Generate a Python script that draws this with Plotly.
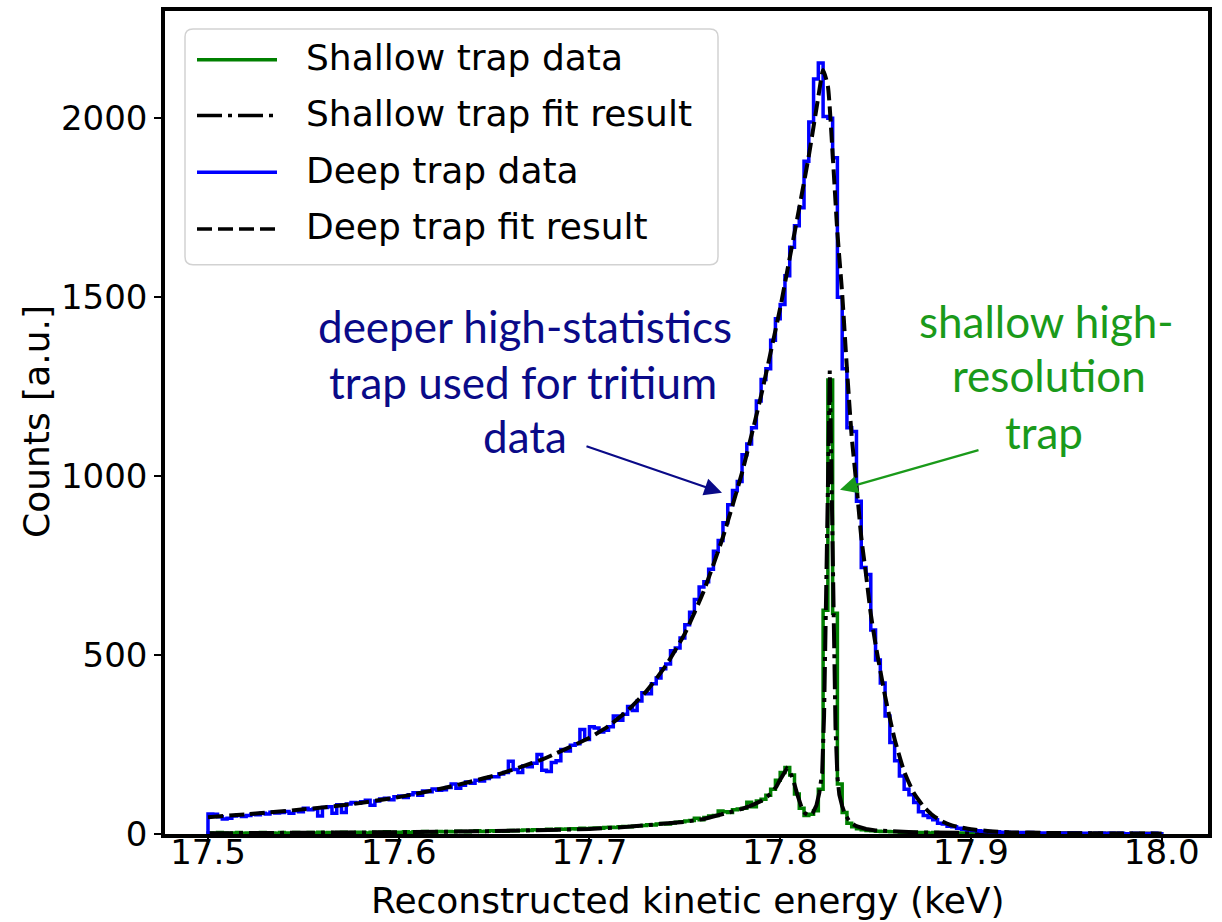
import numpy as np
import plotly.graph_objects as go

# ---------------- data ----------------
bin_start = 17.5
bin_width = 0.0025
n_bins = 200

deep_counts = [
    56, 55, 48, 42, 44, 50, 53, 49, 52, 55,
    54, 58, 56, 61, 59, 60, 63, 58, 65, 62,
    72, 68, 70, 50, 74, 76, 58, 82, 60, 84,
    88, 86, 90, 94, 80, 92, 98, 100, 96, 104,
    106, 102, 110, 115, 108, 120, 118, 126, 122, 124,
    130, 140, 128, 136, 145, 142, 150, 148, 155, 160,
    160, 168, 172, 203, 180, 172, 190, 188, 198, 222,
    178, 175, 200, 205, 236, 232, 248, 252, 292, 264,
    300, 296, 285, 290, 300, 330, 318, 335, 356, 345,
    372, 395, 392, 420, 436, 462, 475, 512, 520, 548,
    585, 620, 655, 690, 705, 740, 790, 820, 870, 920,
    960, 985, 1060, 1090, 1135, 1210, 1270, 1300, 1380, 1440,
    1480, 1560, 1640, 1700, 1750, 1880, 1990, 2110, 2155, 2005,
    2000, 1890, 1500, 1300, 1135, 1125, 930, 745, 725, 570,
    486, 422, 330, 256, 205, 162, 125, 110, 88, 62,
    52, 46, 40, 30, 28, 22, 20, 16, 13, 12,
    10, 9, 8, 7, 6, 6, 5, 5, 4, 4,
    4, 3, 4, 3, 3, 3, 2, 3, 2, 2,
    2, 3, 2, 2, 2, 1, 2, 2, 1, 2,
    1, 2, 1, 1, 2, 1, 1, 1, 2, 1,
]

shallow_counts = [
    3, 2, 4, 3, 2, 3, 4, 2, 3, 3,
    2, 4, 3, 3, 2, 4, 3, 3, 4, 2,
    3, 4, 3, 5, 3, 4, 3, 4, 5, 3,
    4, 5, 4, 3, 5, 4, 5, 6, 4, 5,
    5, 6, 4, 6, 5, 7, 6, 5, 7, 6,
    7, 6, 8, 7, 6, 8, 9, 7, 8, 9,
    8, 9, 8, 10, 9, 10, 11, 10, 12, 11,
    12, 13, 12, 14, 13, 14, 15, 14, 16, 15,
    16, 17, 16, 18, 19, 18, 20, 21, 20, 22,
    23, 24, 26, 25, 28, 29, 28, 31, 33, 34,
    36, 38, 44, 40, 46, 50, 52, 64, 62, 60,
    68, 70, 72, 89, 76, 92, 97, 108, 125, 150,
    172, 186, 165, 112, 72, 52, 55, 65, 125, 625,
    1269, 617, 140, 60, 30, 20, 15, 12, 10, 9,
    8, 7, 7, 6, 6, 5, 5, 5, 4, 4,
    4, 3, 4, 3, 3, 3, 2, 3, 3, 2,
    2, 3, 2, 2, 2, 2, 1, 2, 2, 1,
    2, 1, 1, 2, 1, 1, 1, 2, 1, 1,
    1, 1, 1, 1, 1, 0, 1, 1, 1, 0,
    1, 0, 1, 1, 0, 1, 0, 1, 0, 1,
]

deep_fit_x = [17.50, 17.525, 17.55, 17.575, 17.60, 17.625, 17.65, 17.675, 17.70, 17.71,
              17.72, 17.73, 17.74, 17.75, 17.76, 17.77, 17.78, 17.79, 17.80, 17.805,
              17.81, 17.815, 17.82, 17.8225, 17.825, 17.8275, 17.83, 17.8325, 17.835, 17.8375,
              17.84, 17.8425, 17.845, 17.8475, 17.85, 17.855, 17.86, 17.865, 17.87, 17.875,
              17.88, 17.885, 17.89, 17.90, 17.91, 17.92, 17.94, 17.96, 17.98, 18.00]
deep_fit_y = [47, 57, 69, 83, 103, 130, 163, 208, 269, 302,
              345, 400, 470, 560, 680, 830, 1010, 1225, 1470, 1610,
              1750, 1895, 2060, 2135, 2090, 1900, 1680, 1510, 1300, 1110,
              975, 830, 725, 615, 530, 385, 265, 175, 115, 78,
              52, 35, 24, 13, 8, 5, 3, 2, 1.5, 1]

shallow_fit_x = [17.50, 17.55, 17.60, 17.65, 17.70, 17.72, 17.74, 17.75, 17.76, 17.77,
                 17.78, 17.785, 17.79, 17.795, 17.798, 17.80, 17.802, 17.8035, 17.805, 17.807,
                 17.809, 17.811, 17.813, 17.815, 17.817, 17.819, 17.8205, 17.822, 17.823, 17.824,
                 17.825, 17.826, 17.827, 17.828, 17.829, 17.830, 17.831, 17.8325, 17.834, 17.836,
                 17.838, 17.84, 17.845, 17.85, 17.86, 17.87, 17.88, 17.90, 17.95, 18.00]
shallow_fit_y = [2, 3, 5, 8, 14, 20, 28, 34, 42, 55,
                 70, 80, 92, 112, 132, 152, 172, 183, 176, 148,
                 110, 78, 58, 52, 58, 80, 115, 170, 330, 600,
                 960, 1295, 900, 560, 300, 160, 110, 78, 55, 38,
                 28, 22, 14, 10, 7, 5, 4, 3, 2, 1]

x_ticks = [17.5, 17.6, 17.7, 17.8, 17.9, 18.0]
x_tick_labels = ["17.5", "17.6", "17.7", "17.8", "17.9", "18.0"]
y_ticks = [0, 500, 1000, 1500, 2000]
y_tick_labels = ["0", "500", "1000", "1500", "2000"]

legend_labels = ["Shallow trap data", "Shallow trap fit result",
                 "Deep trap data", "Deep trap fit result"]

# ---------------- layout constants ----------------
W, H = 1222, 922
L, R, T, B = 165, 14, 7, 88
PW, PH = W - L - R, H - T - B

GREEN = "#008000"
BLUE = "#0000ff"
NAVY = "#0a0a88"
ANN_GREEN = "#1a9a1a"
FIT_DASH = "15px,6px"
FIT_DASHDOT = "25px,6px,4px,6px"


def px_x(px):
    return (px - L) / PW


def px_y(py):
    return (H - B - py) / PH


edges = bin_start + bin_width * np.arange(n_bins + 1)


def step_xy(counts):
    xs = [edges[0]] + list(edges[:n_bins]) + [edges[n_bins], edges[n_bins]]
    ys = [0] + list(counts) + [counts[-1], 0]
    return xs, ys


fig = go.Figure()

sx, sy = step_xy(shallow_counts)
fig.add_trace(go.Scatter(x=sx, y=sy, mode="lines", line=dict(color=GREEN, width=3.5, shape="hv"),
                         name=legend_labels[0], showlegend=False))
fig.add_trace(go.Scatter(x=shallow_fit_x, y=shallow_fit_y, mode="lines",
                         line=dict(color="black", width=4, dash=FIT_DASHDOT),
                         name=legend_labels[1], showlegend=False))
dx, dy = step_xy(deep_counts)
fig.add_trace(go.Scatter(x=dx, y=dy, mode="lines", line=dict(color=BLUE, width=3.5, shape="hv"),
                         name=legend_labels[2], showlegend=False))
fig.add_trace(go.Scatter(x=deep_fit_x, y=deep_fit_y, mode="lines",
                         line=dict(color="black", width=4, dash=FIT_DASH, shape="spline", smoothing=0.5),
                         name=legend_labels[3], showlegend=False))

TICKFONT = dict(family="DejaVu Sans", size=34, color="black")

fig.update_xaxes(range=[17.47746, 18.0243], tickvals=x_ticks, ticktext=x_tick_labels,
                 showline=True, linecolor="black", linewidth=3.5, mirror=True,
                 ticks="outside", ticklen=7, tickwidth=1.5, tickcolor="black",
                 ticklabelstandoff=-22,
                 showgrid=False, zeroline=False, tickfont=TICKFONT)
fig.update_yaxes(range=[0, 2300], tickvals=y_ticks, ticktext=y_tick_labels,
                 showline=True, linecolor="black", linewidth=3.5, mirror=True,
                 ticks="outside", ticklen=7, tickwidth=1.5, tickcolor="black",
                 showgrid=False, zeroline=False, tickfont=TICKFONT)

annotations = []
shapes = []

# axis titles
annotations.append(dict(text="Reconstructed kinetic energy (keV)", xref="paper", yref="paper",
                        x=px_x(688), y=px_y(901), showarrow=False, xanchor="center", yanchor="middle",
                        font=dict(family="DejaVu Sans", size=36, color="black")))
annotations.append(dict(text="Counts [a.u.]", xref="paper", yref="paper",
                        x=px_x(36), y=px_y(420), showarrow=False, textangle=-90,
                        xanchor="center", yanchor="middle",
                        font=dict(family="DejaVu Sans", size=36, color="black")))

# legend box (rounded)
x0, x1, y0, y1 = px_x(185), px_x(718), px_y(25), px_y(262)
rx, ry = 8 / PW, 8 / PH
path = (f"M {x0+rx},{y0} L {x1-rx},{y0} Q {x1},{y0} {x1},{y0-ry} "
        f"L {x1},{y1+ry} Q {x1},{y1} {x1-rx},{y1} L {x0+rx},{y1} Q {x0},{y1} {x0},{y1+ry} "
        f"L {x0},{y0-ry} Q {x0},{y0} {x0+rx},{y0} Z")
shapes.append(dict(type="path", path=path, xref="paper", yref="paper",
                   fillcolor="rgba(255,255,255,0.85)", line=dict(color="#d2d2d2", width=1.5), layer="above"))

legend_rows = [56, 112, 169, 226]
legend_styles = [dict(color=GREEN, width=3.5), dict(color="black", width=3.5, dash=FIT_DASHDOT),
                 dict(color=BLUE, width=3.5), dict(color="black", width=3.5, dash=FIT_DASH)]
for row, lab, sty in zip(legend_rows, legend_labels, legend_styles):
    shapes.append(dict(type="line", xref="paper", yref="paper", x0=px_x(197), x1=px_x(277),
                       y0=px_y(row), y1=px_y(row), line=sty, layer="above"))
    annotations.append(dict(text=lab, xref="paper", yref="paper", x=px_x(304), y=px_y(row - 2),
                            showarrow=False, xanchor="left", yanchor="middle",
                            font=dict(family="DejaVu Sans", size=36, color="black")))

# navy annotation
ANN_FONT = "Lato"
for txt, cx, cy in [("deeper high-statistics", 525, 324), ("trap used for tritium", 523, 380),
                    ("data", 525, 434)]:
    annotations.append(dict(text=txt, xref="paper", yref="paper", x=px_x(cx), y=px_y(cy),
                            showarrow=False, xanchor="center", yanchor="middle",
                            font=dict(family=ANN_FONT, size=44, color=NAVY)))
annotations.append(dict(text="", xref="paper", yref="paper", x=px_x(722), y=px_y(491),
                        ax=585 - 722, ay=444 - 491, showarrow=True, arrowhead=2, arrowsize=1.6,
                        arrowwidth=2.2, arrowcolor=NAVY, standoff=0))

# green annotation
for txt, cx, cy in [("shallow high-", 1046, 319), ("resolution", 1049, 373), ("trap", 1044, 430)]:
    annotations.append(dict(text=txt, xref="paper", yref="paper", x=px_x(cx), y=px_y(cy),
                            showarrow=False, xanchor="center", yanchor="middle",
                            font=dict(family=ANN_FONT, size=44, color=ANN_GREEN)))
annotations.append(dict(text="", xref="paper", yref="paper", x=px_x(840), y=px_y(488),
                        ax=980 - 840, ay=448 - 488, showarrow=True, arrowhead=2, arrowsize=1.6,
                        arrowwidth=2.2, arrowcolor=ANN_GREEN, standoff=0))

fig.update_layout(width=W, height=H, margin=dict(l=L, r=R, t=T, b=B),
                  paper_bgcolor="white", plot_bgcolor="white", showlegend=False,
                  annotations=annotations, shapes=shapes)

fig.write_html("out.html")
